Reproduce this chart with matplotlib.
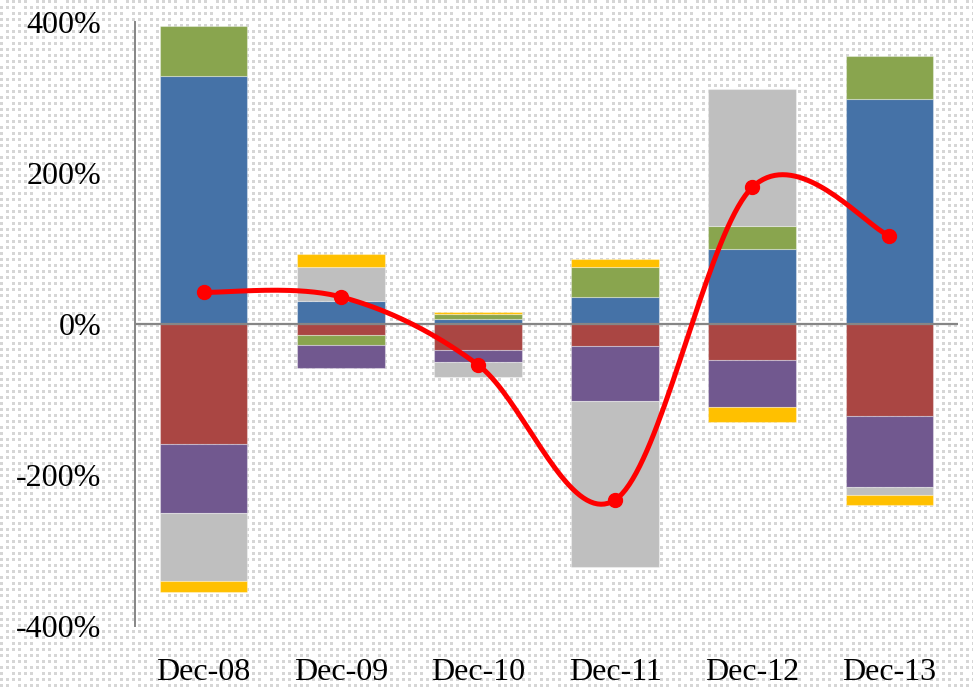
import numpy as np
import matplotlib
import matplotlib.pyplot as plt
from matplotlib.ticker import FuncFormatter

matplotlib.use("agg")
plt.rcParams["font.family"] = ["Liberation Serif", "DejaVu Serif"]

# quarter-end periods and component contributions (%)
periods = ["Dec-08", "Dec-09", "Dec-10", "Dec-11", "Dec-12", "Dec-13"]
blue = [329, 31, 6.6, 35.4, 100, 297.6]
red = [-159.3, -14.6, -34.8, -29.5, -47.7, -121.9]
green = [65.8, -12.8, 6.2, 40.5, 30, 57.4]
purple = [-91.4, -30.5, -15.5, -72.2, -61.9, -94.4]
grey = [-89.7, 44.2, -20.3, -219.7, 180.9, -9.8]
yellow = [-14.2, 17.6, 2.6, 10.2, -20.7, -13.6]
net = [42, 36, -54, -233, 181, 117]

series = [
    (blue, "#4572A7"),
    (red, "#AA4643"),
    (green, "#89A54E"),
    (purple, "#71588F"),
    (grey, "#BFBFBF"),
    (yellow, "#FFC000"),
]


def smooth(xs, ys, n=40):
    # bezier smoothing with catmull-rom style control points
    xs = np.asarray(xs, float)
    ys = np.asarray(ys, float)
    px = np.concatenate([[xs[0]], xs, [xs[-1]]])
    py = np.concatenate([[ys[0]], ys, [ys[-1]]])
    out_x, out_y = [], []
    t = np.linspace(0, 1, n)
    for i in range(1, len(px) - 2):
        p0 = np.array([px[i], py[i]])
        p3 = np.array([px[i + 1], py[i + 1]])
        c1 = p0 + (np.array([px[i + 1], py[i + 1]]) - np.array([px[i - 1], py[i - 1]])) / 6
        c2 = p3 - (np.array([px[i + 2], py[i + 2]]) - np.array([px[i], py[i]])) / 6
        b = ((1 - t) ** 3)[:, None] * p0 + (3 * (1 - t) ** 2 * t)[:, None] * c1 \
            + (3 * (1 - t) * t ** 2)[:, None] * c2 + (t ** 3)[:, None] * p3
        out_x.extend(b[:, 0])
        out_y.extend(b[:, 1])
    return out_x, out_y


fig = plt.figure(figsize=(9.73, 6.88), dpi=100)

# dotted background texture
W, H = 973, 688
bg = np.ones((H, W, 3))
for j in range(0, H, 6):
    for i in range(0, W, 6):
        if (i // 6 + 2 * (j // 6)) % 5 == 0:
            continue
        bg[j:j + 3, i:i + 3] = 0.84
fig.figimage(bg, xo=0, yo=0, origin="upper", zorder=-10)

ax = fig.add_axes([0.1387, 0.0901, 0.8459, 0.8779])
ax.set_zorder(1)
ax.patch.set_visible(False)

x = np.arange(len(periods)) + 0.5
pos_base = np.zeros(len(periods))
neg_base = np.zeros(len(periods))
for vals, color in series:
    vals = np.asarray(vals, float)
    bottoms = np.where(vals >= 0, pos_base, neg_base)
    ax.bar(x, vals, width=0.64, bottom=bottoms, color=color,
           edgecolor=(1, 1, 1, 0.35), linewidth=0.8, zorder=2)
    pos_base += np.where(vals >= 0, vals, 0)
    neg_base += np.where(vals < 0, vals, 0)

sx, sy = smooth(x, net)
ax.plot(sx, sy, color="#FF0000", linewidth=3.6, zorder=4, solid_capstyle="round")
ax.plot(x, net, "o", color="#FF0000", markersize=10, zorder=5)

ax.axhline(0, color="#868686", linewidth=1.6, zorder=3)

ax.set_xlim(0, len(periods))
ax.set_ylim(-400, 400)
ax.set_xticks(x)
ax.set_xticklabels(periods)
ax.set_yticks([-400, -200, 0, 200, 400])
ax.yaxis.set_major_formatter(FuncFormatter(lambda v, p: f"{v:.0f}%"))
ax.tick_params(axis="both", length=0, labelsize=23)
ax.tick_params(axis="x", pad=23)
ax.tick_params(axis="y", pad=24)

for side in ["top", "right", "bottom"]:
    ax.spines[side].set_visible(False)
ax.spines["left"].set_color("#868686")
ax.spines["left"].set_linewidth(1.4)

plt.savefig("out.png", dpi=100)
